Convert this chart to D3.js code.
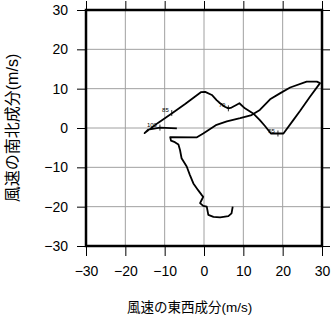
<!DOCTYPE html>
<html>
<head>
<meta charset="utf-8">
<script src="https://cdn.jsdelivr.net/npm/d3@7"></script>
<style>
  body { margin: 0; background: #fff; }
  text { font-family: "Liberation Sans", Arial, "Noto Sans CJK JP", sans-serif; }
</style>
</head>
<body>
<svg id="chart" width="332" height="319"></svg>
<script>
// axis ticks (m/s)
const tickValues = [-30, -20, -10, 0, 10, 20, 30]

// hodograph: east-west (u) and north-south (v) wind components, m/s
const windU = [-6.9, -11.2, -14.2, -15.1, -11.7, -8.2, -4.8, -0.8, 0.3, 2.0, 3.2, 4.1, 5.3, 6.2, 7.0, 8.1, 9.0,
  10.4, 12.5, 14.2, 15.5, 17.0, 18.6, 20.2, 22.7, 24.4, 26.9, 29.5, 28.7, 26.1, 21.9, 19.3, 16.8, 14.2,
  12.1, 9.2, 5.8, 3.2, -0.2, -1.9, -8.6, -8.4, -7.4, -6.5, -6.1, -5.7, -4.4, -3.6, -2.7, -1.5, -0.6,
  -0.2, -0.6, -1.0, -0.2, 0.7, 1.1, 2.4, 4.1, 6.2, 7.0, 7.3]
const windV = [-0.1, 0.1, -0.4, -1.3, 1.3, 3.7, 6.1, 9.1, 9.2, 8.4, 7.1, 6.3, 5.4, 5.0, 5.2, 5.8, 6.3,
  5.0, 3.7, 2.0, 0.5, -1.4, -1.4, -1.4, 2.0, 4.3, 7.9, 11.4, 11.8, 11.8, 10.3, 8.8, 7.3, 4.6,
  3.3, 2.5, 1.7, 0.8, -1.4, -2.4, -2.3, -3.2, -3.6, -4.2, -5.6, -7.7, -9.8, -11.9, -14.1, -15.8, -17.0,
  -17.5, -18.3, -19.1, -19.8, -20.0, -22.1, -22.6, -22.7, -22.4, -21.7, -20.0]

// labelled levels along the curve
const levelNames = ['100', '85', '70', '55']
const levelU = [-11.2, -8.2, 6.2, 18.8]
const levelV = [0.1, 3.8, 5.0, -1.4]

const svg = d3.select('#chart')
const x = d3.scaleLinear().domain([-30, 30]).range([86, 322])
const y = d3.scaleLinear().domain([-30, 30]).range([246, 10])
const fmt = d => d < 0 ? '\u2212' + Math.abs(d) : '' + d

// grid
svg.append('g')
  .selectAll('line.gx')
  .data(tickValues.slice(1, -1))
  .join('line')
  .attr('x1', d => x(d)).attr('x2', d => x(d))
  .attr('y1', y(30)).attr('y2', y(-30))
  .attr('stroke', '#a0a0a0').attr('stroke-width', 1)
svg.append('g')
  .selectAll('line.gy')
  .data(tickValues.slice(1, -1))
  .join('line')
  .attr('y1', d => y(d)).attr('y2', d => y(d))
  .attr('x1', x(-30)).attr('x2', x(30))
  .attr('stroke', '#a0a0a0').attr('stroke-width', 1)

// axes
const styleAxis = g => {
  g.select('.domain').remove()
  g.selectAll('.tick line').attr('stroke', '#000').attr('stroke-width', 1)
  g.selectAll('.tick text').attr('fill', '#000').attr('font-size', 14)
}
svg.append('g').attr('transform', `translate(${x(-30)},0)`)
  .call(d3.axisLeft(y).tickValues(tickValues).tickFormat(fmt).tickSize(9).tickPadding(9))
  .call(styleAxis)
svg.append('g').attr('transform', `translate(0,${y(-30)})`)
  .call(d3.axisBottom(x).tickValues(tickValues).tickFormat(fmt).tickSize(10).tickPadding(10))
  .call(styleAxis)
svg.append('g').attr('transform', `translate(0,${y(30)})`)
  .call(d3.axisTop(x).tickValues(tickValues).tickFormat('').tickSize(9))
  .call(styleAxis)
svg.append('g').attr('transform', `translate(${x(30)},0)`)
  .call(d3.axisRight(y).tickValues(tickValues).tickFormat('').tickSize(8))
  .call(styleAxis)

// frame
svg.append('rect')
  .attr('x', x(-30)).attr('y', y(30))
  .attr('width', x(30) - x(-30)).attr('height', y(-30) - y(30))
  .attr('fill', 'none').attr('stroke', '#000').attr('stroke-width', 2.5)

// hodograph
const line = d3.line().x(i => x(windU[i])).y(i => y(windV[i]))
svg.append('path')
  .attr('d', line(d3.range(windU.length)))
  .attr('fill', 'none').attr('stroke', '#000')
  .attr('stroke-width', 1.8).attr('stroke-linejoin', 'round')

// level marks
const lv = svg.append('g')
levelNames.forEach((name, i) => {
  const px = x(levelU[i]), py = y(levelV[i])
  lv.append('line')
    .attr('x1', px).attr('x2', px).attr('y1', py - 3).attr('y2', py + 3)
    .attr('stroke', '#000').attr('stroke-width', 0.8)
  lv.append('text')
    .attr('x', px - 3).attr('y', py - 1)
    .attr('text-anchor', 'end').attr('font-size', 6)
    .text(name)
})

// axis titles
svg.append('text')
  .attr('x', 127).attr('y', 312)
  .attr('font-size', 13.5)
  .text('風速の東西成分(m/s)')
svg.append('text')
  .attr('transform', 'translate(18,128) rotate(-90)')
  .attr('text-anchor', 'middle')
  .attr('font-size', 16)
  .text('風速の南北成分(m/s)')
</script>
</body>
</html>
